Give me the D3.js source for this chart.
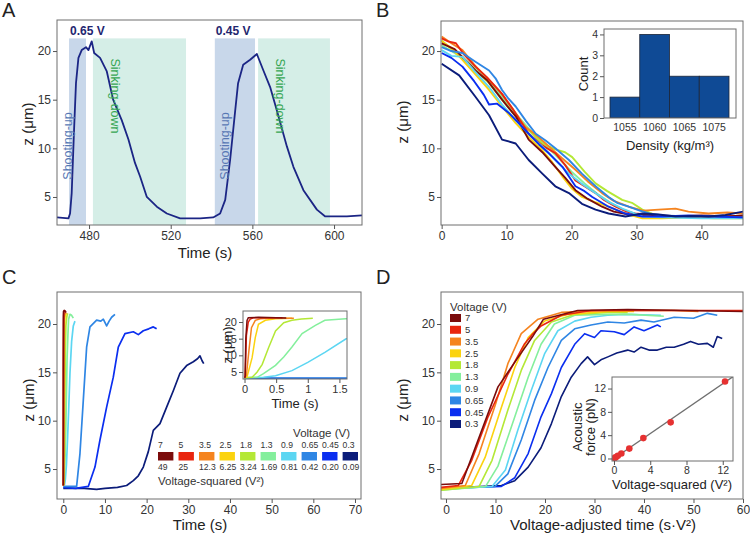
<!DOCTYPE html>
<html>
<head>
<meta charset="utf-8">
<script src="https://cdn.jsdelivr.net/npm/d3@7"></script>
<style>
  body { margin: 0; background: #fff; }
  svg { display: block; }
</style>
</head>
<body>
<svg id="fig" width="750" height="534"></svg>
<script>
// ---- data ----
var voltages = ["7","5","3.5","2.5","1.8","1.3","0.9","0.65","0.45","0.3"];
var voltSquared = ["49","25","12.3","6.25","3.24","1.69","0.81","0.42","0.20","0.09"];

// A: one bead, two pulses
var aTime = [464.3,469.9,470.7,471.5,472.6,473.6,474.8,476.4,478.5,479.7,481.3,482.5,485.4,488.7,491.8,496,499.3,502.5,505,508.3,513.2,518.1,524.6,534.4,540.8,544.2,546.7,549.1,551.6,553,555.5,558.9,562.2,565.4,568.7,572,576.9,580.1,585,591.6,595.7,606.3,613.7];
var aZ = [2.9,2.8,3.3,5.4,11.6,16.7,19.3,20.1,20.4,20.1,21.0,19.8,19.3,17.9,15.0,12.9,10.9,8.5,7.1,5.0,4.0,3.3,2.8,2.8,2.9,3.3,4.7,8.8,13.9,16.7,18.6,19.1,19.7,18.0,16.3,13.9,10.2,8.1,5.7,3.7,3.0,3.0,3.1];
var aPhaseStart = [470.2,481.9,541.6,562.8];
var aPhaseEnd = [478.5,527.5,561.3,598.0];
var aPhaseName = ["Shooting-up","Sinking-down","Shooting-up","Sinking-down"];
var aPulseLabel = ["0.65 V","0.45 V"];
var aShadeTop = 21.3;

// B: sinking traces of ten beads
var bTraces = [
  [[0,20.8],[2,20.2],[5.2,18],[7,17],[9.3,15],[11.5,13.2],[13.4,10.9],[15.5,9.6],[17.5,8.1],[19,7],[20.6,5.7],[22.5,4.8],[24.7,4],[26.5,3.5],[28.8,3.2],[32,3.1],[36,3.0],[40,3.1],[44,3.0],[46.4,3.1]],
  [[0,21.3],[1,21.0],[2.2,20.8],[3.5,19.6],[5.2,18.4],[7,17.3],[9.3,15.6],[11,14],[13.4,11.5],[15.5,10.3],[17.5,9.5],[19,8.3],[20.6,6.7],[22,6.1],[23.7,5.4],[25,4.7],[26.8,4],[28.5,3.5],[29.8,3.3],[33,3.1],[38,3.0],[42,3.05],[46.4,3.0]],
  [[0,21.5],[1.5,20.8],[3.2,20.1],[5,18.6],[7.3,17],[9,15.8],[11,14],[12.9,12.2],[14.5,11.4],[16.5,10.2],[18.5,9],[20.6,7.8],[22.5,6.6],[24.7,5.4],[26.5,4.6],[28.8,4],[31,3.6],[33.4,3.7],[36,3.8],[38,3.5],[41.1,3.3],[44,3.4],[46.4,3.3]],
  [[0,21],[1.5,20.3],[3.2,19.1],[5.2,17.6],[7.3,16],[9.3,14.3],[11.4,12.6],[13.5,11.1],[15.5,9.8],[17,8.6],[18.6,7.1],[20,5.9],[21.6,5],[23.5,4.5],[25.7,4],[27.5,3.5],[28.8,3.2],[30.9,2.8],[34,2.8],[38,2.9],[42,2.8],[46.4,2.8]],
  [[0,21.1],[1.5,20.2],[3.2,19.4],[5.2,18],[7.3,16.7],[9.3,15],[11.4,13.3],[13.5,11.8],[15.5,10.5],[17.5,9.9],[19,9.6],[20.1,9.1],[22,7.6],[23.7,6.4],[25.5,5.6],[27.8,4.7],[29.3,4.4],[30.9,3.7],[33,3.1],[36,3.0],[40,2.9],[46.4,2.9]],
  [[0,20.6],[2,19.8],[4,18.9],[6,17.6],[8,16.4],[10,14.7],[12,13.1],[14,11.6],[16,10.3],[18,9],[20,7.6],[22,6.4],[24,5.3],[26,4.4],[28,3.7],[30,3.2],[34,3.0],[40,3.0],[46.4,2.9]],
  [[0,20.1],[1.5,19.5],[3.2,19.4],[5,18],[7.3,16.3],[9.3,14.5],[11.4,12.9],[13.5,11.4],[15.5,10.2],[17.5,8.8],[19.6,7.4],[21.5,6.4],[23.7,5.4],[25.7,4.5],[27.8,3.8],[30.9,3.0],[34,2.9],[40,2.8],[46.4,2.8]],
  [[0,20.4],[1.5,20],[3.2,19.8],[5.2,18.9],[7.3,18],[8.3,17.2],[9.3,16],[10.3,15.1],[11.4,14.3],[13,12.8],[14.5,11.5],[16,10.8],[17.5,10],[19.6,8.8],[21.6,7.4],[23.7,6.1],[25.7,5],[27,4.4],[28.8,4],[30.5,3.6],[32,3.3],[34,3.1],[38,3.0],[42,3.0],[46.4,2.9]],
  [[0,19.8],[1.5,19.3],[3.2,18.4],[5,16.9],[6.5,15.5],[7.3,14.5],[8.5,14.6],[10.4,13.6],[12,12.5],[13.4,11.5],[15,10.4],[16.5,9.5],[18.6,8.1],[20.6,6.1],[22,5.6],[23.2,5],[25.7,4],[28.3,3.3],[30.9,3],[34,3.0],[38,3.1],[42,3.0],[46.4,2.9]],
  [[0,18.7],[2.7,17.5],[5.2,15.3],[7.3,13.4],[9.3,10.9],[11.4,10.5],[13.4,8.8],[15.5,7.4],[17.5,6.1],[19.6,5.4],[21.6,4.3],[23.7,3.7],[25.7,3.3],[28.3,3.0],[30.9,3.3],[33.4,3.2],[36,3.0],[38.6,3.05],[41.1,3.0],[43.7,3.15],[46.4,3.5]]
];
var bDensityBin = ["1055","1060","1065","1075"];
var bCount = [1,4,2,2];

// C: rise curves per voltage (time in s)
var cTraces = [
  [[0,3.3],[0.01,3.5],[0.02,15],[0.04,20.5],[0.06,21.3],[0.22,21.4],[0.5,21.3],[0.66,21.2]],
  [[0,3.3],[0.01,4],[0.03,16],[0.06,20],[0.09,20.9],[0.15,21.3],[0.6,21.3]],
  [[0,3.3],[0.03,4],[0.07,11.5],[0.11,18.3],[0.17,20.5],[0.25,21],[0.38,21.1],[0.78,21.1]],
  [[0,3.3],[0.04,3.5],[0.12,9.3],[0.17,15.3],[0.22,19.3],[0.33,20.5],[0.49,21],[0.75,21.1]],
  [[0,3.3],[0.12,3.4],[0.2,5],[0.28,7.3],[0.38,12.3],[0.49,17.3],[0.62,19.8],[0.75,20.5],[0.9,20.9],[1.08,21.1]],
  [[0,3.3],[0.2,3.4],[0.3,4.5],[0.49,7],[0.62,9.5],[0.75,12.5],[0.91,16.5],[1.12,19],[1.27,20.5],[1.6,21],[2.0,20.9],[2.4,20.6]],
  [[0,3.3],[0.3,3.4],[0.49,3.9],[0.75,5.4],[1.0,7.9],[1.27,10.9],[1.6,14.9],[2.0,18.2],[2.4,19.8],[2.8,20.3]],
  [[0,3.2],[1.6,3.2],[3.2,3.2],[4,6.6],[4.8,12.1],[5.6,17.6],[6.4,19.7],[8,20.4],[9,20.3],[9.6,20.5],[10.4,19.8],[11,20.3],[11.6,20.7],[12.4,21.0]],
  [[0,3.1],[3,3.0],[6,3.2],[7.6,5.2],[8.8,8],[10.4,11.4],[12,14.5],[13.2,17.6],[14.8,19.0],[16.8,19.2],[18,18.9],[19.2,19.3],[20.5,19.5],[21.6,19.7],[22.4,19.5]],
  [[0,3.0],[5,3.0],[8,2.9],[10,3.0],[13,3.1],[15.2,3.3],[16.8,3.8],[18,4.3],[19.2,5.2],[20.4,6.8],[21.6,9.0],[23.2,9.7],[24.8,11.4],[26.4,13.1],[28,14.9],[29.6,15.7],[31.2,16.1],[32.2,16.4],[32.8,16.7],[33.3,16.2],[33.7,15.9]]
];

// D: same curves against voltage-adjusted time (s*V^2)
var dTraces = [
  [[-1,3.4],[3.2,3.5],[10.5,13.5],[14.5,16.5],[17.5,18.7],[19.7,20.5],[26.6,21.4],[36.7,21.5],[60,21.3]],
  [[-1,3.1],[2.5,3.3],[5.2,5.9],[8.5,10.4],[12.5,14.8],[15.8,17.9],[17.4,18.9],[19.2,19.8],[23.3,20.9],[29.3,21.4],[60,21.4]],
  [[-1,3.0],[3.9,3.3],[6.7,6.6],[10,11.7],[12.5,15.9],[15.2,19],[18.6,20.5],[23.3,21.2],[32.7,21.4],[46.1,21.4],[51,21.3]],
  [[-1,2.9],[5.2,3.3],[7.9,6.2],[11.2,11.4],[13.9,15.5],[16.6,18.6],[19.9,20.3],[24.6,21],[32.7,21.3],[38,21.3]],
  [[-1,2.8],[6.7,3.2],[9.3,5.9],[12.5,11.1],[15.2,15.2],[17.9,18.3],[21.3,20.2],[26,21],[32.7,21.2],[36.7,21.2]],
  [[-1,2.8],[8,3.2],[10.5,5.3],[13.9,10.4],[16.6,14.5],[19.2,17.9],[21.9,20],[26,20.9],[32.7,21],[37.4,21],[44,20.8]],
  [[-1,2.9],[9.3,3.2],[12,4.9],[14.5,9],[17.2,13.1],[19.9,16.9],[22.6,19.3],[26,20.3],[29.3,20.7],[32.7,20.9],[36,21],[43.4,20.9]],
  [[-1,3.0],[9.9,3.2],[12.5,4.5],[15.2,8],[17.9,12.1],[20.6,15.5],[23.3,18.3],[26,19.5],[29.3,19.9],[32.7,20.2],[36,20.1],[39.4,20.4],[42,20.2],[46.1,20.7],[50,20.6],[52.8,21.1],[54.8,20.9]],
  [[-1,3.0],[11.2,3.2],[13.9,4.1],[16.6,6.6],[19.2,10.4],[21.3,12.8],[23.3,15.5],[26,17.9],[28,19],[30,18.6],[31.3,19.3],[34,19.2],[36,18.9],[38,19.7],[40,19.3],[42.7,19.9],[43.4,19.7]],
  [[-1,3.0],[11.2,3.3],[13.9,3.8],[16.6,5.2],[19.2,7.2],[21.3,9.7],[23.3,12.5],[25.3,14.5],[27.3,15.9],[28.6,16.6],[30,15.8],[31.3,16.3],[32.7,16.6],[34.5,17],[36.7,17.3],[38,17.1],[39.4,17.6],[41,17.3],[42.7,17.3],[44.5,17.6],[46.1,17.6],[48,17.9],[49.4,18.2],[51,17.9],[52.8,18],[54,17.6],[54.8,18.7],[55.8,18.5]]
];
var dForceV2 = [0.09,0.2,0.42,0.81,1.69,3.24,6.25,12.25];
var dForcePN = [0.1,0.2,0.45,0.85,1.7,3.5,6.2,13.2];
var dFitV2 = [0,13.2];
var dFitPN = [0,14.1];

// ---- drawing ----
var FONT = "'Liberation Sans', Arial, sans-serif";
var palette = ["#7b0c0c","#e9260f","#f5841f","#fbd30f","#b4e836","#84ef9c","#5cd6f2","#2f86e4","#0a2ef0","#0b1c7a"];
var color = d3.scaleOrdinal().domain(voltages).range(palette);

var svg = d3.select("#fig").style("font-family", FONT);
var defs = svg.append("defs");
var clipN = 0;

function box(x, y, bg) {
  var r = {x: x.range()[0], y: y.range()[1], w: x.range()[1] - x.range()[0], h: y.range()[0] - y.range()[1]};
  var g = svg.append("g");
  g.append("rect").attr("x", r.x).attr("y", r.y).attr("width", r.w).attr("height", r.h)
    .attr("fill", bg || "none");
  var id = "clip" + (clipN++);
  defs.append("clipPath").attr("id", id).append("rect")
    .attr("x", r.x).attr("y", r.y).attr("width", r.w).attr("height", r.h);
  var plot = g.append("g").attr("clip-path", "url(#" + id + ")");
  return {g: g, plot: plot, r: r};
}

function axes(b, x, y, xt, yt, fs, xAxisFn) {
  b.g.append("rect").attr("x", b.r.x).attr("y", b.r.y).attr("width", b.r.w).attr("height", b.r.h)
    .attr("fill", "none").attr("stroke", "#6e6e6e").attr("stroke-width", 1);
  var xa = b.g.append("g").attr("transform", "translate(0," + y.range()[0] + ")")
    .call(xAxisFn || d3.axisBottom(x).tickValues(xt).tickSize(4).tickPadding(2).tickFormat(d3.format("")));
  var ya = b.g.append("g").attr("transform", "translate(" + x.range()[0] + ",0)")
    .call(d3.axisLeft(y).tickValues(yt).tickSize(4).tickPadding(2).tickFormat(d3.format("")));
  [xa, ya].forEach(function (a) {
    a.select(".domain").remove();
    a.selectAll("line").attr("stroke", "#555");
    a.selectAll("text").attr("font-family", FONT).attr("font-size", fs).attr("fill", "#333");
  });
}

function label(txt, x, y, fs, opt) {
  opt = opt || {};
  var t = svg.append("text").attr("x", x).attr("y", y).attr("font-size", fs)
    .attr("fill", opt.fill || "#222").attr("text-anchor", opt.anchor || "middle")
    .attr("font-weight", opt.weight || "normal");
  if (opt.rot) {
    t.attr("x", 0).attr("y", 0).attr("dy", "0.35em")
      .attr("transform", "translate(" + x + "," + y + ") rotate(" + opt.rot + ")");
  }
  t.text(txt);
  return t;
}

function traceLine(x, y) {
  return d3.line().x(function (d) { return x(d[0]); }).y(function (d) { return y(d[1]); });
}

// panel letters
label("A", 2, 17, 20, {anchor: "start"});
label("B", 376, 17, 20, {anchor: "start"});
label("C", 2, 284, 20, {anchor: "start"});
label("D", 376, 284, 20, {anchor: "start"});

// ===== A =====
(function () {
  var x = d3.scaleLinear().domain([464.3, 613.7]).range([57, 362]);
  var y = d3.scaleLinear().domain([2.12, 23.19]).range([225, 20]);
  var b = box(x, y, "#fff");
  aPhaseStart.forEach(function (s, i) {
    b.plot.append("rect").attr("x", x(s)).attr("width", x(aPhaseEnd[i]) - x(s))
      .attr("y", y(aShadeTop)).attr("height", y.range()[0] - y(aShadeTop))
      .attr("fill", aPhaseName[i] === "Shooting-up" ? "#c8d7ea" : "#d5eee7");
  });
  b.plot.append("path").datum(d3.zip(aTime, aZ)).attr("d", traceLine(x, y))
    .attr("fill", "none").attr("stroke", "#1b2585").attr("stroke-width", 1.8)
    .attr("stroke-linejoin", "round");
  axes(b, x, y, [480, 520, 560, 600], [5, 10, 15, 20], 12);

  aPulseLabel.forEach(function (t, i) {
    label(t, x(aPhaseStart[i * 2]) + 1, y(aShadeTop) - 3, 12, {anchor: "start", weight: "bold", fill: "#1f2670"});
  });
  var offs = [-1, 22, 10, 22];
  aPhaseName.forEach(function (t, i) {
    var shoot = t === "Shooting-up";
    label(t, x(aPhaseStart[i]) + offs[i], shoot ? 146 : 96, 12.5,
      {rot: shoot ? -90 : 90, fill: shoot ? "#5878b4" : "#36a653"});
  });
  label("Time (s)", 205, 258, 15);
  label("z (\u03bcm)", 28, 124, 15, {rot: -90});
})();

// ===== B =====
(function () {
  var x = d3.scaleLinear().domain([-0.1, 46.4]).range([441, 743]);
  var y = d3.scaleLinear().domain([2.12, 23.09]).range([225, 21]);
  var b = box(x, y, "#fff");
  var order = [5, 4, 3, 2, 1, 0, 6, 7, 8, 9];
  order.forEach(function (i) {
    b.plot.append("path").datum(bTraces[i]).attr("d", traceLine(x, y))
      .attr("fill", "none").attr("stroke", palette[i]).attr("stroke-width", 1.9)
      .attr("stroke-linejoin", "round");
  });
  axes(b, x, y, [0, 10, 20, 30, 40], [5, 10, 15, 20], 12);
  label("z (\u03bcm)", 403, 122, 15, {rot: -90});

  // inset histogram
  var xi = d3.scaleBand().domain(bDensityBin).range([610, 729]).padding(0);
  var yi = d3.scaleLinear().domain([0, 4.26]).range([118, 29]);
  var xs = d3.scaleLinear().domain([0, 1]).range([604, 736]);
  var bi = box(xs, yi, "#fff");
  bi.plot.selectAll("rect.bar").data(bCount).enter().append("rect").attr("class", "bar")
    .attr("x", function (d, i) { return xi(bDensityBin[i]); })
    .attr("width", xi.bandwidth())
    .attr("y", function (d) { return yi(d); })
    .attr("height", function (d) { return yi(0) - yi(d); })
    .attr("fill", "#0f4a95").attr("stroke", "#1c2638").attr("stroke-width", 0.8);
  axes(bi, xs, yi, null, [0, 1, 2, 3, 4], 10.5,
    d3.axisBottom(xi).tickSize(0).tickPadding(6));
  label("Count", 583, 74, 13, {rot: -90});
  label("Density (kg/m\u00b3)", 670, 150, 13);
})();

// ===== C =====
(function () {
  var x = d3.scaleLinear().domain([-1.51, 71.44]).range([57, 361]);
  var y = d3.scaleLinear().domain([1.9, 23.31]).range([499, 292]);
  var b = box(x, y, "#fff");
  for (var i = cTraces.length - 1; i >= 0; i--) {
    b.plot.append("path").datum(cTraces[i]).attr("d", traceLine(x, y))
      .attr("fill", "none").attr("stroke", palette[i]).attr("stroke-width", 1.7)
      .attr("stroke-linejoin", "round");
  }
  axes(b, x, y, [0, 10, 20, 30, 40, 50, 60, 70], [5, 10, 15, 20], 12);
  label("Time (s)", 200, 530, 15);
  label("z (\u03bcm)", 29, 400, 15, {rot: -90});

  // inset zoom on first 1.6 s
  var xi = d3.scaleLinear().domain([-0.024, 1.62]).range([243, 347]);
  var yi = d3.scaleLinear().domain([2.9, 23.3]).range([379, 311]);
  var bi = box(xi, yi, "#fff");
  for (var j = cTraces.length - 1; j >= 0; j--) {
    bi.plot.append("path").datum(cTraces[j]).attr("d", traceLine(xi, yi))
      .attr("fill", "none").attr("stroke", palette[j]).attr("stroke-width", 1.5);
  }
  axes(bi, xi, yi, [0, 0.5, 1, 1.5], [5, 10, 15, 20], 11);
  label("Time (s)", 295, 408, 13);
  label("z (\u03bcm)", 227, 345, 13, {rot: -90});

  // colour key
  var kx = d3.scaleBand().domain(voltages).range([158, 358]).paddingInner(0.25).paddingOuter(0);
  var key = svg.append("g").attr("font-size", 8.6).attr("fill", "#333");
  voltages.forEach(function (v, i) {
    key.append("rect").attr("x", kx(v)).attr("y", 452).attr("width", kx.bandwidth()).attr("height", 8.5)
      .attr("fill", color(v));
    key.append("text").attr("x", kx(v)).attr("y", 448).text(v);
    key.append("text").attr("x", kx(v)).attr("y", 470).text(voltSquared[i]);
  });
  label("Voltage (V)", 350, 437, 11.5, {anchor: "end", fill: "#333"});
  label("Voltage-squared (V\u00b2)", 158, 485, 11.5, {anchor: "start", fill: "#333"});
})();

// ===== D =====
(function () {
  var x = d3.scaleLinear().domain([-1.01, 60]).range([441, 743]);
  var y = d3.scaleLinear().domain([1.9, 23.31]).range([499, 292]);
  var b = box(x, y, "#fff");
  for (var i = dTraces.length - 1; i >= 0; i--) {
    b.plot.append("path").datum(dTraces[i]).attr("d", traceLine(x, y))
      .attr("fill", "none").attr("stroke", palette[i]).attr("stroke-width", 1.6)
      .attr("stroke-linejoin", "round");
  }
  axes(b, x, y, [0, 10, 20, 30, 40, 50, 60], [5, 10, 15, 20], 12);
  label("Voltage-adjusted time (s\u00b7V\u00b2)", 603, 530, 15);
  label("z (\u03bcm)", 403, 400, 15, {rot: -90});

  // legend
  var ly = d3.scaleBand().domain(voltages).range([314, 428]).paddingInner(0.32).paddingOuter(0);
  var lg = svg.append("g").attr("font-size", 9.5).attr("fill", "#333");
  voltages.forEach(function (v) {
    lg.append("rect").attr("x", 450).attr("y", ly(v)).attr("width", 11).attr("height", ly.bandwidth())
      .attr("fill", color(v));
    lg.append("text").attr("x", 465).attr("y", ly(v) + ly.bandwidth() / 2).attr("dy", "0.35em").text(v);
  });
  label("Voltage (V)", 450, 311, 11.5, {anchor: "start", fill: "#333"});

  // inset: force vs V^2
  var xi = d3.scaleLinear().domain([-0.22, 13.13]).range([612, 733]);
  var yi = d3.scaleLinear().domain([-0.43, 13.98]).range([461, 377]);
  var bi = box(xi, yi, "#fff");
  bi.plot.append("path").datum(d3.zip(dFitV2, dFitPN)).attr("d", traceLine(xi, yi))
    .attr("stroke", "#6f6f6f").attr("stroke-width", 1.4).attr("fill", "none");
  bi.plot.selectAll("circle").data(d3.zip(dForceV2, dForcePN)).enter().append("circle")
    .attr("cx", function (d) { return xi(d[0]); }).attr("cy", function (d) { return yi(d[1]); })
    .attr("r", 3.3).attr("fill", "#e63131");
  axes(bi, xi, yi, [0, 4, 8, 12], [0, 4, 8, 12], 10.5);
  label("Acoustic", 577, 427, 13, {rot: -90});
  label("force (pN)", 590, 427, 13, {rot: -90});
  label("Voltage-squared (V\u00b2)", 672, 489, 13);
})();
</script>
</body>
</html>
